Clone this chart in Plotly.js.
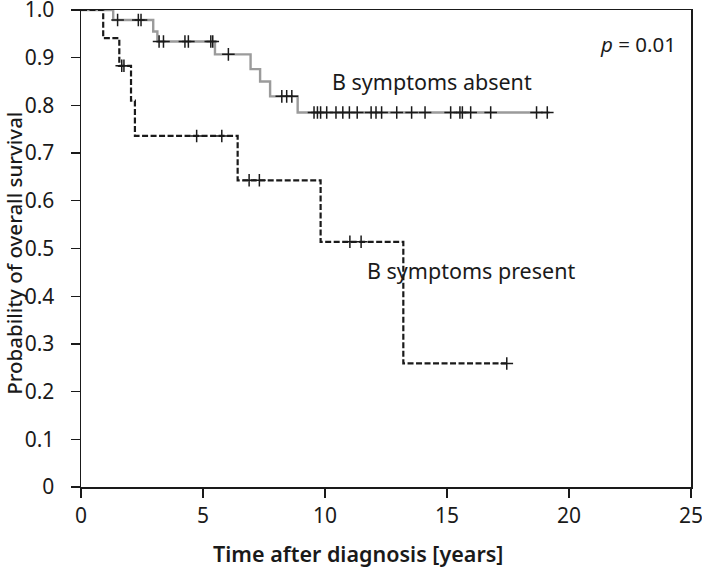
<!DOCTYPE html>
<html>
<head>
<meta charset="utf-8">
<script src="https://cdn.plot.ly/plotly-3.0.1.min.js"></script>
<style>
  body { margin: 0; background: #fff; }
  #plot { width: 702px; height: 572px; }
</style>
</head>
<body>
<div id="plot"></div>
<script>
// Kaplan-Meier steps (time in years, survival probability)
const absentTimes = [0, 1.32, 2.96, 3.13, 5.49, 6.95, 7.34, 7.75, 8.88, 19.2];
const absentSurv  = [1.0, 0.979, 0.955, 0.934, 0.907, 0.876, 0.850, 0.819, 0.785, 0.785];
const absentCensored = [1.50, 2.35, 2.46, 3.20, 3.38, 4.26, 4.40, 5.32, 5.40, 6.04,
  8.23, 8.43, 8.64, 9.55, 9.69, 9.82, 10.07, 10.45, 10.73, 11.0, 11.32, 11.89, 12.09,
  12.32, 12.94, 13.55, 14.1, 15.15, 15.53, 15.63, 15.97, 16.79, 18.67, 19.11];

const presentTimes = [0, 0.91, 1.57, 2.05, 2.21, 6.42, 9.82, 13.21, 17.45];
const presentSurv  = [1.0, 0.941, 0.883, 0.810, 0.736, 0.643, 0.514, 0.259, 0.259];
const presentCensored = [1.67, 1.76, 4.74, 5.77, 6.89, 7.31, 11.02, 11.48, 17.45];

const xTicks = [0, 5, 10, 15, 20, 25];
const yTicks = [0, 0.1, 0.2, 0.3, 0.4, 0.5, 0.6, 0.7, 0.8, 0.9, 1.0];
const yTickText = ['0', '0.1', '0.2', '0.3', '0.4', '0.5', '0.6', '0.7', '0.8', '0.9', '1.0'];

// value of a step curve at time t
function stepValue(times, surv, t) {
  let v = surv[0];
  for (let i = 0; i < times.length; i++) {
    if (times[i] <= t) v = surv[i];
  }
  return v;
}

const font = 'Noto Sans, Open Sans, sans-serif';
const ink = '#1a1a1a';

const data = [
  {
    type: 'scatter', mode: 'lines',
    x: absentTimes, y: absentSurv,
    line: { shape: 'hv', color: 'rgb(155,155,155)', width: 2.4 },
    hoverinfo: 'skip'
  },
  {
    type: 'scatter', mode: 'markers',
    x: absentCensored,
    y: absentCensored.map(t => stepValue(absentTimes, absentSurv, t)),
    marker: { symbol: 'cross-thin', size: 9, line: { color: ink, width: 1.5 } },
    hoverinfo: 'x+y'
  },
  {
    type: 'scatter', mode: 'lines',
    x: presentTimes, y: presentSurv,
    line: { shape: 'hv', color: ink, width: 2.2, dash: '6px,2.5px' },
    hoverinfo: 'skip'
  },
  {
    type: 'scatter', mode: 'markers',
    x: presentCensored,
    y: presentCensored.map(t => stepValue(presentTimes, presentSurv, t)),
    marker: { symbol: 'cross-thin', size: 9, line: { color: ink, width: 1.5 } },
    hoverinfo: 'x+y'
  }
];

const layout = {
  width: 702,
  height: 572,
  showlegend: false,
  paper_bgcolor: 'white',
  plot_bgcolor: 'white',
  font: { family: font, size: 21, color: ink },
  margin: { l: 81, r: 11, t: 10, b: 85 },
  xaxis: {
    range: [0, 25],
    tickvals: xTicks,
    ticks: 'outside', ticklen: 9, tickwidth: 1.3, tickcolor: ink,
    ticklabelstandoff: 0, ticklabeloverflow: 'allow',
    showgrid: false, zeroline: false,
    showline: true, linecolor: ink, linewidth: 1.5, mirror: true,
    tickfont: { family: font, size: 21, color: ink }
  },
  yaxis: {
    range: [0, 1],
    tickvals: yTicks, ticktext: yTickText,
    ticks: 'outside', ticklen: 9, tickwidth: 1.3, tickcolor: ink,
    ticklabelstandoff: 12, ticklabeloverflow: 'allow',
    showgrid: false, zeroline: false,
    showline: true, linecolor: ink, linewidth: 1.5, mirror: true,
    tickfont: { family: font, size: 21, color: ink }
  },
  annotations: [
    { x: 14.4, y: 0.851, xref: 'x', yref: 'y', text: 'B symptoms absent', showarrow: false,
      font: { family: font, size: 21.5, color: ink } },
    { x: 16.0, y: 0.454, xref: 'x', yref: 'y', text: 'B symptoms present', showarrow: false,
      font: { family: font, size: 21.5, color: ink } },
    { x: 24.45, y: 0.929, xref: 'x', yref: 'y', xanchor: 'right', text: '<i>p</i> = 0.01', showarrow: false,
      font: { family: font, size: 20.5, color: ink } },
    { x: 0.454, y: -0.14, xref: 'paper', yref: 'paper', xanchor: 'center', yanchor: 'middle',
      text: 'Time after diagnosis [years]',
      showarrow: false, font: { family: font, size: 21.5, color: ink, weight: 600 } },
    { x: -0.109, y: 0.49, xref: 'paper', yref: 'paper', xanchor: 'center', yanchor: 'middle',
      text: 'Probability of overall survival',
      textangle: -90, showarrow: false, font: { family: font, size: 20.5, color: ink, weight: 500 } }
  ]
};

Plotly.newPlot('plot', data, layout, { displayModeBar: false, staticPlot: true });
</script>
</body>
</html>
